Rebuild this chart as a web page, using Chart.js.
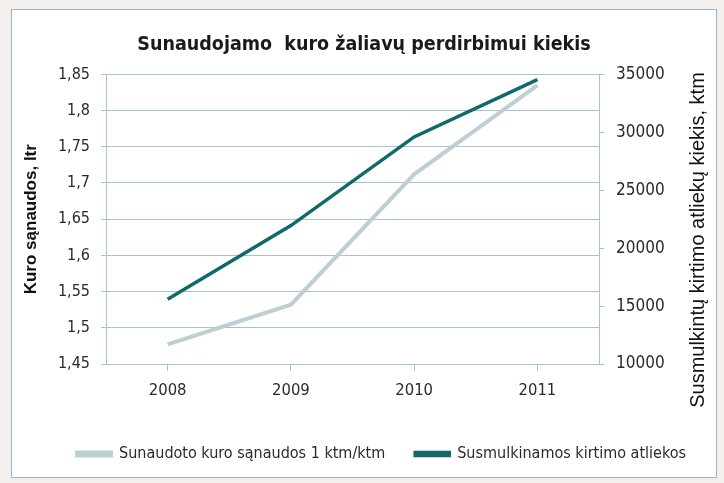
<!DOCTYPE html>
<html>
<head>
<meta charset="utf-8">
<script src="https://cdn.jsdelivr.net/npm/chart.js@4"></script>
<style>
  html, body { margin: 0; padding: 0; background: #f4f0ee; }
  #box {
    position: absolute; left: 11px; top: 9px;
    width: 706px; height: 469px; box-sizing: border-box;
    border: 1px solid #9db4c2; background: #fff;
  }
  #chart { display: block; }
</style>
</head>
<body>
<div id="box"><canvas id="chart" width="704" height="467"></canvas></div>
<script>
// data
const years = ["2008", "2009", "2010", "2011"];
const fuelUse = [1.477, 1.532, 1.712, 1.835];       // left axis, ltr
const chipped = [15600, 21950, 29600, 34550];      // right axis, ktm
const leftTicks = [1.45, 1.85, 0.05];
const rightTicks = [10000, 35000, 5000];
const rightTitle = "Susmulkintų kirtimo atliekų kiekis, ktm";

const gridColor = "#a7c3cf";
const textColor = "#2a2a2a";
const narrow = "'Liberation Sans Narrow', 'DejaVu Sans Condensed', sans-serif";

// right axis title reads bottom-to-top, chart.js would rotate it the other way
const rightTitlePlugin = {
  id: "rightTitle",
  afterDraw(chart) {
    const ctx = chart.ctx;
    ctx.save();
    ctx.translate(686, 230);
    ctx.rotate(-Math.PI / 2);
    ctx.font = "20px 'Liberation Sans', Arial, sans-serif";
    ctx.fillStyle = "#111";
    ctx.textAlign = "center";
    ctx.textBaseline = "middle";
    ctx.fillText(rightTitle, 0, 0);
    ctx.restore();
  }
};

new Chart(document.getElementById("chart"), {
  type: "line",
  data: {
    labels: years,
    datasets: [{
      label: "Sunaudoto kuro sąnaudos 1 ktm/ktm",
      data: fuelUse,
      yAxisID: "yLeft",
      borderColor: "#bccfd2",
      backgroundColor: "#bccfd2",
      borderWidth: 4,
      pointRadius: 0,
      tension: 0
    }, {
      label: "Susmulkinamos kirtimo atliekos",
      data: chipped,
      yAxisID: "yRight",
      borderColor: "#11696a",
      backgroundColor: "#11696a",
      borderWidth: 3.5,
      pointRadius: 0,
      tension: 0
    }]
  },
  plugins: [rightTitlePlugin],
  options: {
    responsive: false,
    animation: false,
    layout: { padding: { bottom: 5 } },
    plugins: {
      title: {
        display: true,
        text: "Sunaudojamo  kuro žaliavų perdirbimui kiekis",
        color: "#1a1a1a",
        font: { family: narrow, size: 19.5, weight: "bold" },
        padding: { top: 23, bottom: 18 }
      },
      legend: {
        position: "bottom",
        align: "end",
        labels: {
          color: textColor,
          font: { family: narrow, size: 16 },
          boxWidth: 34,
          boxHeight: 3,
          padding: 30
        }
      },
      tooltip: { enabled: false }
    },
    scales: {
      x: {
        offset: true,
        grid: { drawOnChartArea: false, drawTicks: true, tickLength: 7, color: gridColor },
        border: { color: gridColor },
        ticks: { color: textColor, font: { family: narrow, size: 16.5 }, padding: 10 },
        afterFit: s => { s.height = 52; }
      },
      yLeft: {
        position: "left",
        min: leftTicks[0],
        max: leftTicks[1],
        ticks: {
          stepSize: leftTicks[2],
          color: textColor,
          font: { family: narrow, size: 16 },
          padding: 11,
          callback: v => String(Number(v.toFixed(2))).replace(".", ",")
        },
        grid: { color: gridColor, tickLength: 5 },
        border: { color: gridColor },
        title: {
          display: true,
          text: "Kuro sąnaudos, ltr",
          color: "#111",
          font: { family: "Liberation Sans", size: 17, weight: "bold" },
          padding: { top: 9, bottom: 0 }
        },
        afterFit: s => { s.width = 94; }
      },
      yRight: {
        position: "right",
        min: rightTicks[0],
        max: rightTicks[1],
        ticks: {
          stepSize: rightTicks[2],
          color: textColor,
          font: { family: narrow, size: 17 },
          padding: 12,
          callback: v => String(v)
        },
        grid: { drawOnChartArea: false, color: gridColor, tickLength: 5 },
        border: { color: gridColor },
        afterFit: s => { s.width = 117; }
      }
    }
  }
});
</script>
</body>
</html>
